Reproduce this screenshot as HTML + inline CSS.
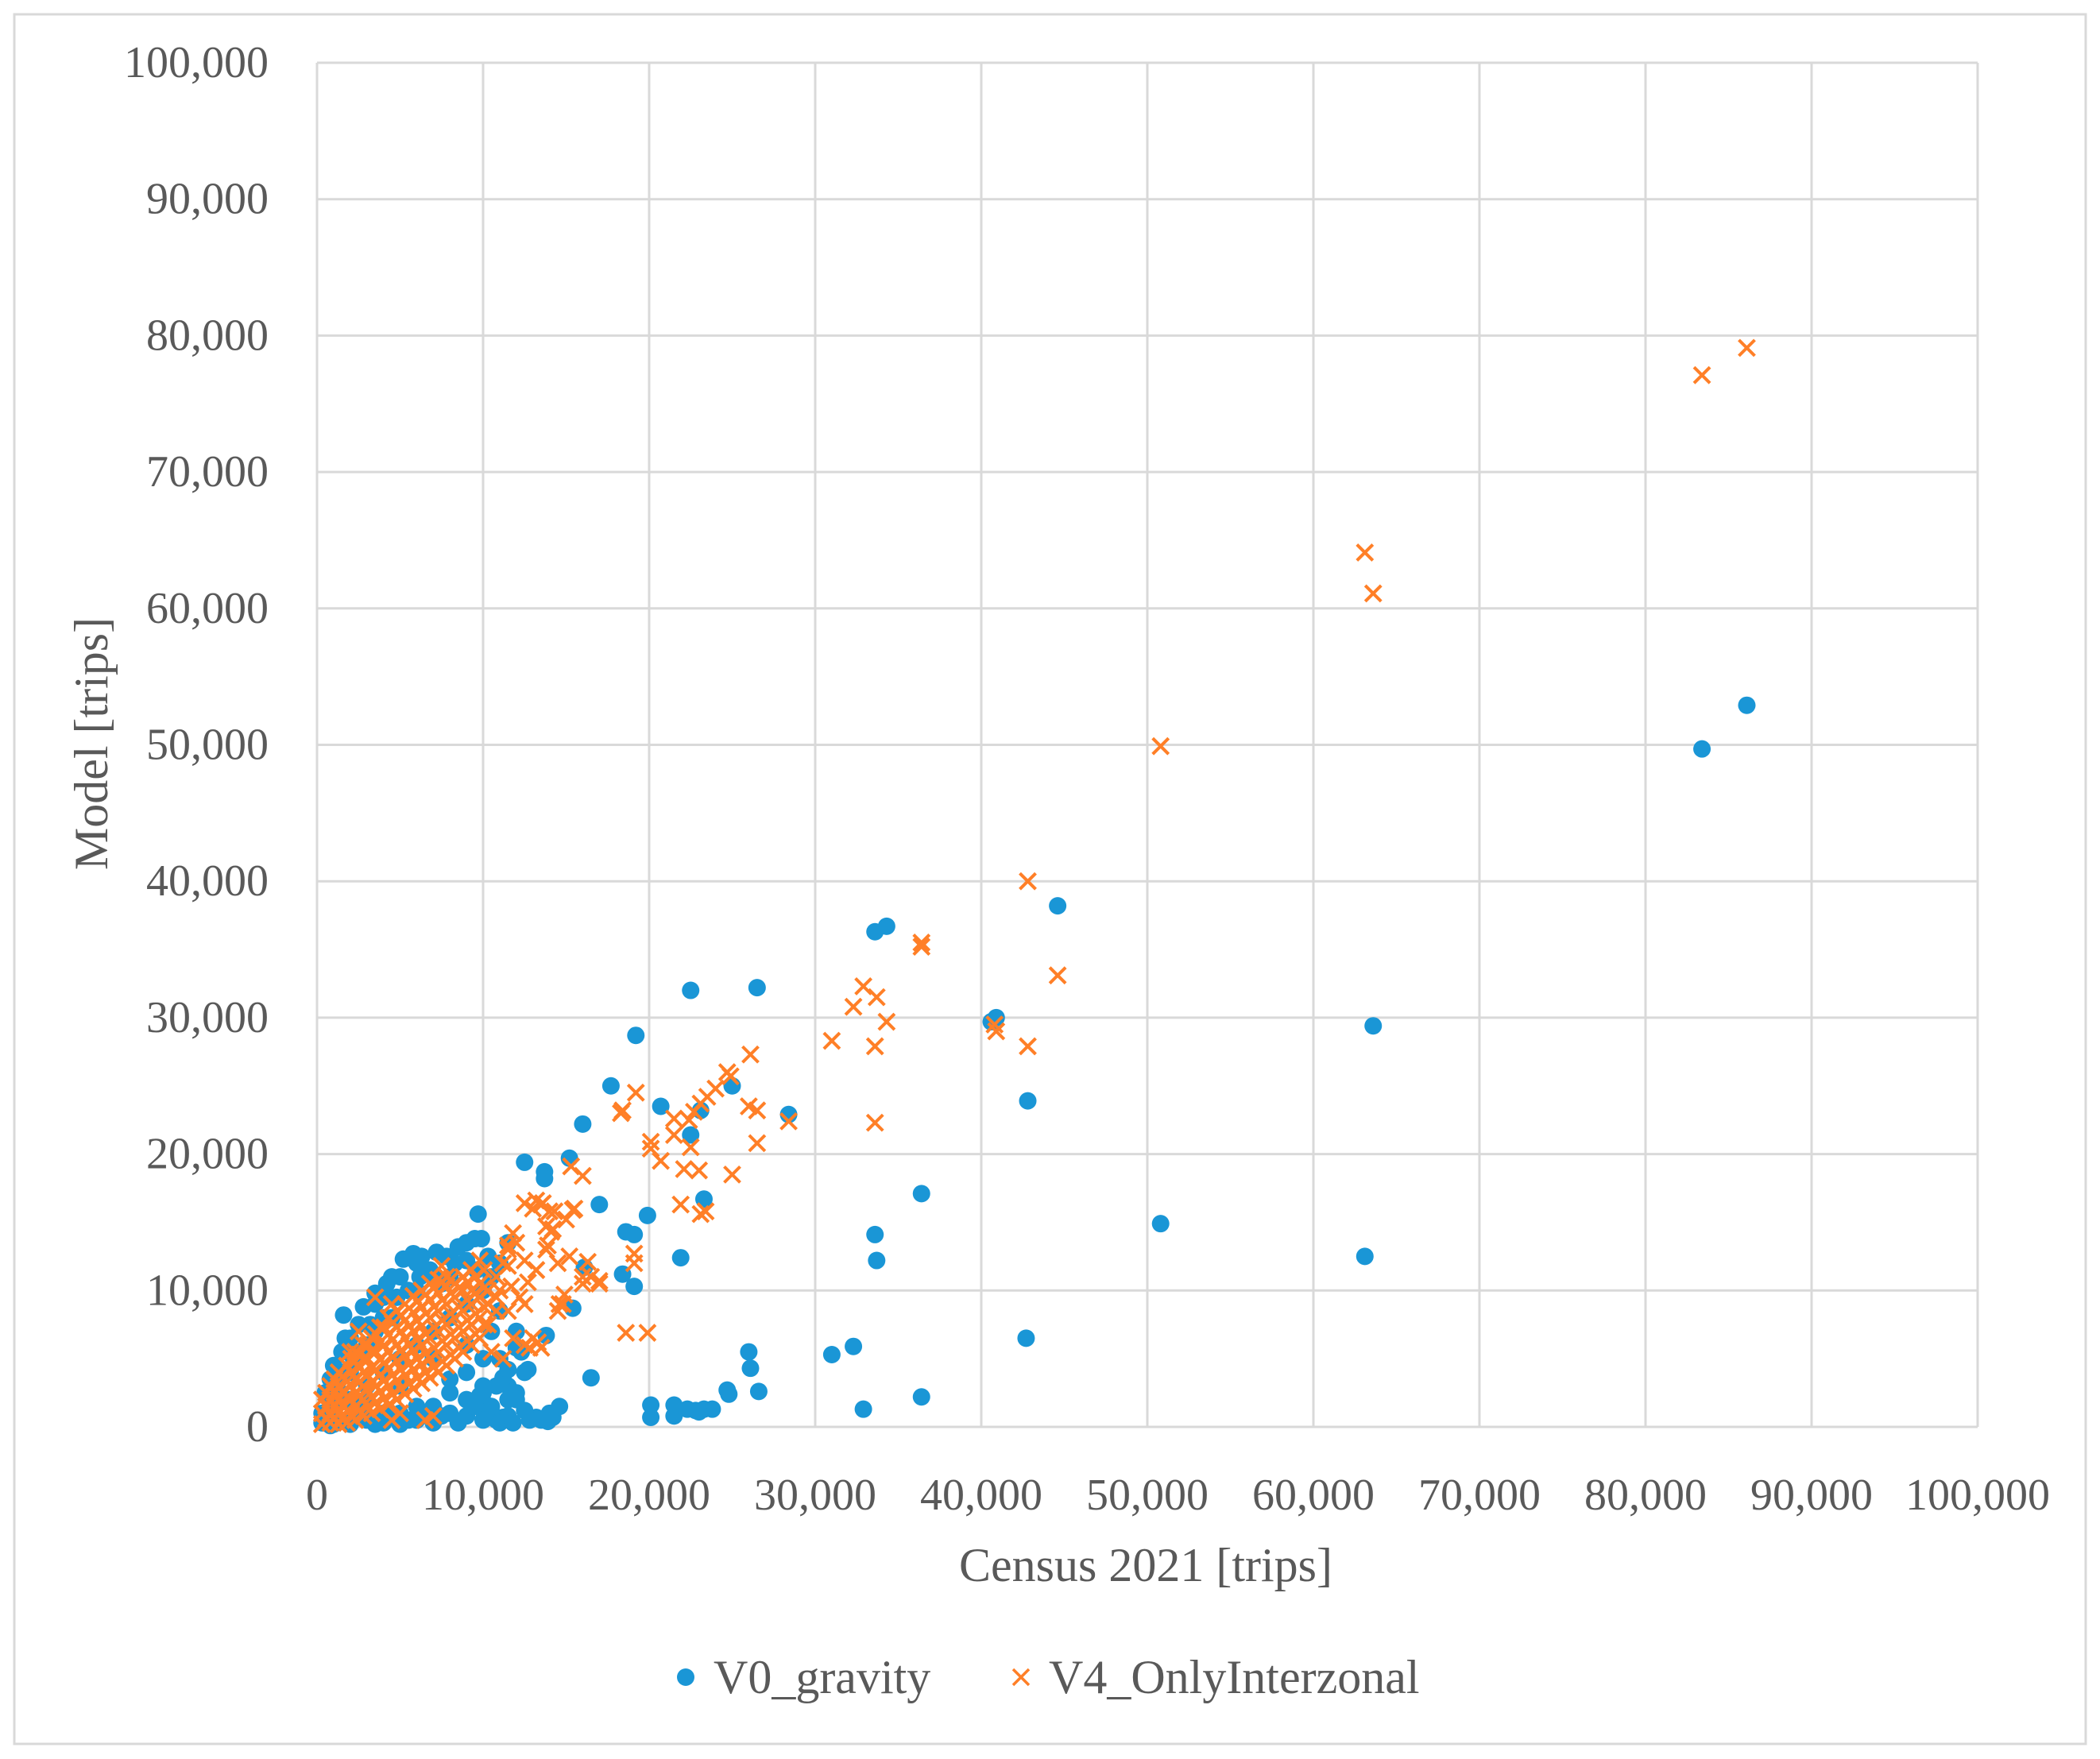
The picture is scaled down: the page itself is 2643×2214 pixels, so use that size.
<!DOCTYPE html>
<html><head><meta charset="utf-8"><style>
html,body{margin:0;padding:0;background:#fff;}
svg{display:block;font-family:"Liberation Serif",serif;}
</style></head><body>
<svg id="chart" width="2643" height="2214" viewBox="0 0 2643 2214" xmlns="http://www.w3.org/2000/svg">
<rect x="18" y="18" width="2607" height="2177" fill="#fff" stroke="#d9d9d9" stroke-width="3"/>
<g id="grid"></g>
<g id="ticks"></g>
<g id="blue"></g>
<g id="orange"></g>
<text x="1442" y="1990" text-anchor="middle" font-size="60" fill="#595959">Census 2021 [trips]</text>
<text transform="translate(135,936) rotate(-90)" text-anchor="middle" font-size="60" fill="#595959">Model [trips]</text>
<g>
<g>
<circle cx="863" cy="2111" r="11" fill="#1a96d6"/>
<text x="898" y="2131" font-size="60" fill="#595959">V0_gravity</text>
</g>
<g>
<path d="M1275 2101 L1295 2121 M1295 2101 L1275 2121" stroke="#ff7f27" stroke-width="3.5"/>
<text x="1320" y="2131" font-size="60" fill="#595959">V4_OnlyInterzonal</text>
</g>
</g>
</svg>
<script>
const xTicks = [0,10000,20000,30000,40000,50000,60000,70000,80000,90000,100000];
const yTicks = [0,10000,20000,30000,40000,50000,60000,70000,80000,90000,100000];
// values in thousands of trips
const blueX = [86.1,83.4,63.6,63.1,50.8,44.6,42.8,42.7,40.9,40.6,36.4,36.4,34.3,33.6,33.6,33.7,32.9,32.3,31.0,28.4,26.5,26.6,26.0,26.1,25.0,24.8,24.7,22.5,22.5,23.1,23.3,21.9,20.7,19.2,17.7,19.9,19.1,18.6,19.1,18.4,16.0,17.0,16.5,15.2,12.5,13.7,13.7,9.7,16.1,15.4,13.8,12.7,20.1,20.1,21.5,21.5,22.3,22.8,23.3,23.8,23.0,
10.0,11.2,12.0,13.2,14.2,14.6,10.8,11.5,10.1,13.9,
0.3,0.5,0.8,1,1.5,1.7,1.6,2.5,2.8,3.5,4,4.2,5,5.2,5.8,6.3,6.8,7.2,7.8,8.5,9,9.5,9.9,10.3,11,11.5,3,2,4.5,6,8,1,2,3.2,
1,2,3,4,5,6,7,8,9,10,10.5,11,11.5,12,12.5,11,12,10,9,8,7,6,5,4,3,11.8,8.5,9.8,11.2,12.3,
2,4,6,8,10,3,5,7,9,1];
const blueY = [52.9,49.7,29.4,12.5,14.9,38.2,23.9,6.5,30.0,29.7,17.1,2.2,36.7,36.3,14.1,12.2,1.3,5.9,5.3,22.9,32.2,2.6,5.5,4.3,25.0,2.4,2.7,32.0,21.4,23.2,16.7,12.4,23.5,28.7,25.0,15.5,14.1,14.3,10.3,11.2,22.2,16.3,3.6,19.7,19.4,18.7,18.2,15.6,11.7,8.7,6.7,4.2,1.6,0.7,1.6,0.8,1.3,1.2,1.3,1.3,1.1,
2.5,0.7,2.0,0.7,0.7,1.5,0.5,3.0,1.7,0.4,
1,2.5,3.5,4.5,5.5,6.5,8.2,7.5,8.8,9.8,9.5,10.5,11,12.3,12.7,12.5,11.5,12.8,12.5,13.2,13.5,13.8,13.8,12.5,12,13.5,6,4,8,10,11,2,6.5,7.5,
0.2,0.3,0.5,0.3,0.2,0.5,0.3,1,0.8,0.5,1.5,0.3,0.8,2.5,4,5,7,3,2,2.5,1.5,1.5,1,1,0.8,0.3,0.3,2.3,3.6,5.5,
2,4,6,8,10,3,5,7,9,1.5];
const blueX2 = [0.5,1.2,1.5,2.2,2.8,3.5,4,4.8,5.5,6.2,7,7.5,8.3,9,9.6,10.5,3.5,4.5,6,2.5,3.5,4.5,5.5,6.5,7.5,8,9,10,10.5,11,10.8,9.5,12.8,13.5,14,11.5,12,2,0.3,0.8,1.2,3,5,7,9,11.5,12.5];
const blueY2 = [0.8,3,4,5,5.5,7,8,9.5,10,11,11,10.5,12,12.2,11.5,11,9,11,12,1,0.2,0.8,0.5,1,0.8,3.5,4,5,7,8.5,3,1.5,0.5,0.5,1,4.2,5.8,0.2,0.3,0.1,1.8,2,3,5,6,2,1.2];
const orangeX = [86.1,83.4,63.1,63.6,50.8,42.8,44.6,42.8,40.8,40.9,36.4,36.4,34.3,33.7,32.9,32.3,33.6,33.6,31.0,28.4,26.1,26.5,26.0,26.5,25.0,24.7,24.9,24.0,23.5,23.1,22.7,22.4,22.5,23.0,22.1,23.1,23.4,21.9,21.5,21.5,20.7,20.1,20.1,19.2,18.3,18.4,19.1,19.1,19.9,18.6,17.0,16.3,16.0,16.0,15.3,15.4,14.3,13.8,13.6,13.2,12.5,14.1,13.9,13.2,12.7,11.5,11.5,11.7,13.3,12.8,14.6,14.9,
0.3,0.3,0.3,0.8,0.8,0.8,0.8,1.3,1.3,1.3,1.3,1.3,1.8,1.8,1.8,1.8,1.8,2.3,2.3,2.3,2.3,2.3,2.3,2.8,2.8,2.8,2.8,2.8,2.8,3.3,3.3,3.3,3.3,3.3,3.3,3.8,3.8,3.8,3.8,3.8,3.8,4.3,4.3,4.3,4.3,4.3,4.3,4.8,4.8,4.8,4.8,4.8,4.8,5.3,5.3,5.3,5.3,5.3,5.3,5.8,5.8,5.8,5.8,5.8,5.8,6.3,6.3,6.3,6.3,6.3,6.3,6.8,6.8,6.8,6.8,6.8,6.8,7.3,7.3,7.3,7.3,7.3,7.3,7.8,7.8,7.8,7.8,7.8,7.8,8.3,8.3,8.3,8.3,8.3,8.8,8.8,8.8,8.8,8.8,9.3,9.3,9.3,9.3,9.3,9.8,9.8,9.8,9.8,9.8,10.3,10.3,10.3,10.8,10.8,10.8,
11.2,11.5,11.8,12,11,12.2,11.5,12.5,11.8,12.5,13,13.5,10.5,11.2,6.5,7,4.5,5,3.5,4.5,2.5,2,7.5,13,14,13.5,14.2,15,15.5,14.5,13.8,15.2,16,16.5,17,14.8,14.5,12.5,13.2];
const orangeY = [79.1,77.1,64.1,61.1,49.9,40.0,33.1,27.9,29.5,29.0,35.5,35.2,29.7,31.5,32.3,30.8,27.9,22.3,28.3,22.4,27.3,23.2,23.5,20.8,18.5,26.0,25.7,24.8,24.2,23.7,23.1,22.5,20.5,18.8,18.9,15.6,15.8,16.3,22.6,21.4,19.5,20.9,20.4,24.5,23.0,23.2,12.7,12.0,6.9,6.9,10.7,12.1,11.0,18.4,19.1,15.9,15.8,14.7,16.4,16.6,16.4,14.3,13.3,11.5,10.6,13.3,11.8,10.3,6.2,5.8,9.0,9.7,
0.2,1,2,0.3,1,2,3,0.2,1,2,3,4,0.3,1.2,2.2,3.3,4.5,0.5,1.5,2.5,3.5,4.8,5.5,0.8,2,3,4,5,6,1,2.2,3.3,4.3,5.5,6.5,1.3,2.6,3.8,5,6.2,7.3,1.6,3,4.3,5.5,6.8,8,2,3.4,4.8,6,7.3,8.5,2.4,3.8,5.2,6.5,7.8,9,2.8,4.2,5.6,7,8.4,9.6,3.2,4.6,6,7.4,8.8,10,3.6,5,6.5,8,9.3,10.5,4,5.5,7,8.5,9.8,10.8,4.5,6,7.5,9,10.3,11,5,6.5,8,9.5,10.5,5.5,7,8.5,10,11,6,7.5,9,10,11.5,6.5,8,9.5,10.5,12.2,7.5,9,10,8.5,9.5,11,
12,13,14.2,13.5,10,9.5,8.5,9,6.5,6,6.5,5.8,5.5,5,0.5,0.8,0.5,1,9.5,9,7,5.5,11.8,16,15.8,16.3,14.5,15.2,16,12,13,12.5,10.5,11,10.5,9,8.5,12.2,11.5];
const orangeX2 = [0.55,0.55,0.55,1.05,1.05,1.05,1.05,1.55,1.55,1.55,1.55,2.05,2.05,2.05,2.05,2.05,2.55,2.55,2.55,2.55,2.55,3.05,3.05,3.05,3.05,3.05,3.55,3.55,3.55,3.55,3.55,4.05,4.05,4.05,4.05,4.05,4.55,4.55,4.55,4.55,4.55,5.05,5.05,5.05,5.05,5.05,5.55,5.55,5.55,5.55,5.55,6.05,6.05,6.05,6.05,6.05,6.55,6.55,6.55,6.55,6.55,7.05,7.05,7.05,7.05,7.05,7.55,7.55,7.55,7.55,7.55,8.05,8.05,8.05,8.05,8.05,8.55,8.55,8.55,8.55,9.05,9.05,9.05,9.05,9.55,9.55,9.55,9.55,10.05,10.05,10.05,10.05];
const orangeY2 = [0.6,1.5,2.5,0.6,1.5,2.5,3.5,0.7,1.6,2.6,3.7,0.9,2,3,4,5,1.2,2.3,3.3,4.3,5.3,1.5,2.7,3.8,5,6,1.8,3,4.2,5.5,6.8,2.1,3.4,4.7,6,7.3,2.4,3.8,5.1,6.4,7.6,2.8,4.2,5.6,7,8.2,3.2,4.6,6,7.4,8.7,3.6,5,6.4,7.8,9.2,4,5.4,6.8,8.3,9.7,4.4,5.8,7.3,8.8,10.2,4.8,6.3,7.8,9.3,10.6,5.3,6.8,8.3,9.8,10.8,5.8,7.3,8.8,10.2,6.3,7.8,9.3,10.6,6.8,8.3,9.8,11,7.5,8.8,10.2,11.5];

const L=399,R=2489,T=79,B=1796;
function xs(v){return L+(v/100)*(R-L);}
function ys(v){return B-(v/100)*(B-T);}
const NS="http://www.w3.org/2000/svg";
const grid=document.getElementById('grid'), ticks=document.getElementById('ticks');
xTicks.forEach((t)=>{
  const x=xs(t/1000);
  const ln=document.createElementNS(NS,'line');
  ln.setAttribute('x1',x);ln.setAttribute('x2',x);ln.setAttribute('y1',T);ln.setAttribute('y2',B);
  ln.setAttribute('stroke','#d9d9d9');ln.setAttribute('stroke-width','3');
  
  
  grid.appendChild(ln);
  const tx=document.createElementNS(NS,'text');
  tx.setAttribute('x',x);tx.setAttribute('y',1900);tx.setAttribute('text-anchor','middle');
  tx.setAttribute('font-size','56');tx.setAttribute('fill','#595959');
  tx.textContent=t.toLocaleString('en-US');
  
  
  ticks.appendChild(tx);
});
yTicks.forEach((t)=>{
  const y=ys(t/1000);
  const ln=document.createElementNS(NS,'line');
  ln.setAttribute('x1',L);ln.setAttribute('x2',R);ln.setAttribute('y1',y);ln.setAttribute('y2',y);
  ln.setAttribute('stroke','#d9d9d9');ln.setAttribute('stroke-width','3');
  
  
  grid.appendChild(ln);
  const tx=document.createElementNS(NS,'text');
  tx.setAttribute('x',338);tx.setAttribute('y',y+18);tx.setAttribute('text-anchor','end');
  tx.setAttribute('font-size','56');tx.setAttribute('fill','#595959');
  tx.textContent=t.toLocaleString('en-US');
  
  
  ticks.appendChild(tx);
});
const bg=document.getElementById('blue');
function addBlue(xv,yv){
  xv.forEach((v,i)=>{
    const c=document.createElementNS(NS,'circle');
    c.setAttribute('cx',xs(v));c.setAttribute('cy',ys(yv[i]));c.setAttribute('r',11);
    c.setAttribute('fill','#1a96d6');
    
    
    bg.appendChild(c);
  });
}
addBlue(blueX,blueY);
addBlue(blueX2,blueY2);
const og=document.getElementById('orange');
function addOrange(xv,yv){
  xv.forEach((v,i)=>{
    const x=xs(v), y=ys(yv[i]), s=10;
    const p=document.createElementNS(NS,'path');
    p.setAttribute('d',`M${x-s} ${y-s} L${x+s} ${y+s} M${x+s} ${y-s} L${x-s} ${y+s}`);
    p.setAttribute('stroke','#ff7f27');p.setAttribute('stroke-width','4');
    
    
    og.appendChild(p);
  });
}
addOrange(orangeX,orangeY);
addOrange(orangeX2,orangeY2);
</script>
</body></html>
